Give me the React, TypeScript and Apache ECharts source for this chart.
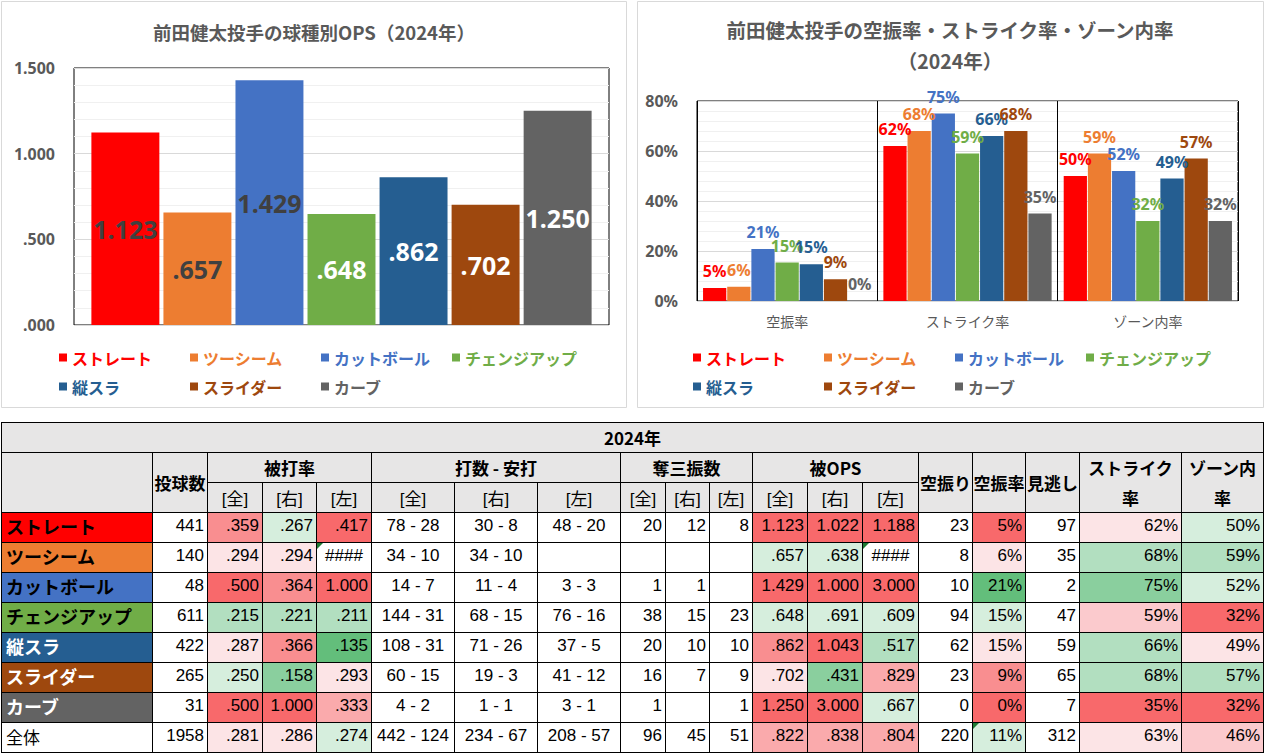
import React, { useEffect, useRef } from 'react';
import * as echarts from 'echarts';

// ---------- data ----------
const pitchTypes = ['ストレート', 'ツーシーム', 'カットボール', 'チェンジアップ', '縦スラ', 'スライダー', 'カーブ'];
const pitchColors = ['#FF0000', '#ED7D31', '#4472C4', '#70AD47', '#255E91', '#9E480E', '#636363'];
const opsLabelColors = ['#404040', '#404040', '#404040', '#FFFFFF', '#FFFFFF', '#FFFFFF', '#FFFFFF'];
const opsValues = [1.123, 0.657, 1.429, 0.648, 0.862, 0.702, 1.25];

const rateCategories = ['空振率', 'ストライク率', 'ゾーン内率'];
const whiffRates = [5.2, 5.7, 20.8, 15.4, 14.7, 8.7, 0];
const strikeRates = [62, 68, 75, 59, 66, 68, 35];
const zoneRates = [50, 59, 52, 32, 49, 57, 32];

const chart1Title = '前田健太投手の球種別OPS（2024年）';
const chart2Title = '前田健太投手の空振率・ストライク率・ゾーン内率\n（2024年）';

// table
const tableYear = '2024年';
const rowNames = [...pitchTypes, '全体'];
const rowNameTextColors = ['#000', '#000', '#000', '#000', '#FFF', '#FFF', '#FFF', '#000'];
const groupHeaders = ['被打率', '打数 - 安打', '奪三振数', '被OPS'];
const subHeaders = ['[全]', '[右]', '[左]'];
const singleHeaders = ['空振り', '空振率', '見逃し'];
const wrapHeaders = [['ストライク', '率'], ['ゾーン内', '率']];
const pitchCounts = ['441', '140', '48', '611', '422', '265', '31', '1958'];
const avgAll = ['.359', '.294', '.500', '.215', '.287', '.250', '.500', '.281'];
const avgR = ['.267', '.294', '.364', '.221', '.366', '.158', '1.000', '.286'];
const avgL = ['.417', '####', '1.000', '.211', '.135', '.293', '.333', '.274'];
const abHitsAll = ['78 - 28', '34 - 10', '14 - 7', '144 - 31', '108 - 31', '60 - 15', '4 - 2', '442 - 124'];
const abHitsR = ['30 - 8', '34 - 10', '11 - 4', '68 - 15', '71 - 26', '19 - 3', '1 - 1', '234 - 67'];
const abHitsL = ['48 - 20', '', '3 - 3', '76 - 16', '37 - 5', '41 - 12', '3 - 1', '208 - 57'];
const soAll = ['20', '', '1', '38', '20', '16', '1', '96'];
const soR = ['12', '', '1', '15', '10', '7', '', '45'];
const soL = ['8', '', '', '23', '10', '9', '1', '51'];
const opsAll = ['1.123', '.657', '1.429', '.648', '.862', '.702', '1.250', '.822'];
const opsR = ['1.022', '.638', '1.000', '.691', '1.043', '.431', '3.000', '.838'];
const opsL = ['1.188', '####', '3.000', '.609', '.517', '.829', '.667', '.804'];
const whiffs = ['23', '8', '10', '94', '62', '23', '0', '220'];
const whiffPct = ['5%', '6%', '21%', '15%', '15%', '9%', '0%', '11%'];
const takes = ['97', '35', '2', '47', '59', '65', '7', '312'];
const strikePct = ['62%', '68%', '75%', '59%', '66%', '68%', '35%', '63%'];
const zonePct = ['50%', '59%', '52%', '32%', '49%', '57%', '32%', '46%'];

// colour-scale shades
const avgAllShade = ['R2', 'R0', 'R3', 'G1', 'R0', 'G0', 'R3', 'R0'];
const avgRShade = ['G0', 'R0', 'R2', 'G1', 'R2', 'G2', 'R3', 'R0'];
const avgLShade = ['R3', '', 'R3', 'G1', 'G3', 'R0', 'R1', 'G0'];
const opsAllShade = ['R3', 'G0', 'R3', 'G0', 'R2', 'R0', 'R3', 'R1'];
const opsRShade = ['R3', 'G0', 'R3', 'G0', 'R3', 'G2', 'R3', 'R1'];
const opsLShade = ['R3', '', 'R3', 'G0', 'G1', 'R1', 'G0', 'R1'];
const whiffPctShade = ['R3', 'R0', 'G3', 'G0', 'R0', 'R2', 'R3', 'G0'];
const strikePctShade = ['R0', 'G1', 'G2', 'Rp', 'G1', 'G1', 'R3', 'R0'];
const zonePctShade = ['G0', 'G1', 'G0', 'R3', 'R0', 'G1', 'R3', 'Rp'];
const errorMarks: Record<string, boolean> = { '1-4': true, '1-13': true, '7-15': true };

const shades: Record<string, string> = {
  R3: '#F8696B', R2: '#F98E90', R1: '#FAAAAC', Rp: '#FBCACD', R0: '#FCE4E6',
  G0: '#D6EEDD', G1: '#B2DFC0', G2: '#8ACF9E', G3: '#63BE7B', '': '#FFFFFF',
};

const latin = "'Noto Sans', 'Noto Sans CJK JP', sans-serif";
const cjk = "'Noto Sans CJK JP', sans-serif";
const tableFont = "'Liberation Sans', 'Noto Sans CJK JP', sans-serif";

const fmt3 = (v: number) => (v >= 1 ? v.toFixed(3) : v.toFixed(3).slice(1));

const legendFor = (left: number) => ({
  left,
  top: 348,
  width: 540,
  padding: 0,
  orient: 'horizontal',
  icon: 'rect',
  itemWidth: 8,
  itemHeight: 8,
  itemGap: 10,
  selectedMode: false,
  textStyle: { fontSize: 16, fontWeight: 'bold', fontFamily: cjk, width: 108, lineHeight: 19 },
  data: pitchTypes.map((n, i) => ({ name: n, textStyle: { color: pitchColors[i] } })),
});

function Charts() {
  const ref = useRef<HTMLDivElement>(null);
  useEffect(() => {
    if (!ref.current) return;
    const chart = echarts.init(ref.current, null, { renderer: 'svg' });
    const option: any = {
      animation: false,
      backgroundColor: '#FFFFFF',
      graphic: [
        { type: 'rect', z: -10, silent: true, shape: { x: 1.5, y: 1.5, width: 625, height: 406 }, style: { fill: '#FFFFFF', stroke: '#D9D9D9', lineWidth: 1 } },
        { type: 'rect', z: -10, silent: true, shape: { x: 637.5, y: 1.5, width: 626, height: 406 }, style: { fill: '#FFFFFF', stroke: '#D9D9D9', lineWidth: 1 } },
      ],
      title: [
        { text: chart1Title, left: 309, top: 11, textAlign: 'center', textStyle: { fontSize: 18.5, fontWeight: 'bold', color: '#595959', fontFamily: cjk, lineHeight: 31 } },
        { text: chart2Title, left: 945, top: 9, textAlign: 'center', textStyle: { fontSize: 19.5, fontWeight: 'bold', color: '#595959', fontFamily: cjk, lineHeight: 31 } },
      ],
      legend: [legendFor(59), legendFor(693)],
      grid: [
        { left: 74, top: 68, width: 535, height: 257, show: true, borderColor: '#000', borderWidth: 1, backgroundColor: 'transparent' },
        { left: 697, top: 101, width: 541, height: 200, show: true, borderColor: '#000', borderWidth: 1, backgroundColor: 'transparent' },
      ],
      xAxis: [
        { type: 'category', gridIndex: 0, data: ['OPS'], axisLabel: { show: false }, axisTick: { show: false }, axisLine: { show: false }, splitLine: { show: false } },
        {
          type: 'category', gridIndex: 1, data: rateCategories,
          axisLabel: { fontSize: 14, color: '#595959', fontFamily: cjk, margin: 13 },
          axisTick: { show: false }, axisLine: { show: false },
          splitLine: { show: true, lineStyle: { color: '#000', width: 1 } },
        },
      ],
      yAxis: [
        {
          type: 'value', gridIndex: 0, min: 0, max: 1.5, interval: 0.5,
          axisLabel: { formatter: (v: number) => fmt3(v), fontSize: 16, fontWeight: 'bold', color: '#595959', fontFamily: latin, margin: 19 },
          axisLine: { show: false }, axisTick: { show: false },
          splitLine: { lineStyle: { color: '#D9D9D9' } },
          minorTick: { show: false, splitNumber: 5 },
          minorSplitLine: { show: true, lineStyle: { color: '#F0F0F0' } },
        },
        {
          type: 'value', gridIndex: 1, min: 0, max: 80, interval: 20,
          axisLabel: { formatter: (v: number) => v + '%', fontSize: 16, fontWeight: 'bold', color: '#595959', fontFamily: latin, margin: 19 },
          axisLine: { show: false }, axisTick: { show: false },
          splitLine: { lineStyle: { color: '#D9D9D9' } },
          minorTick: { show: false, splitNumber: 5 },
          minorSplitLine: { show: true, lineStyle: { color: '#F0F0F0' } },
        },
      ],
      series: [
        ...pitchTypes.map((name, i) => ({
          name, type: 'bar', xAxisIndex: 0, yAxisIndex: 0,
          data: [opsValues[i]],
          barGap: '6%', barCategoryGap: '6.5%',
          itemStyle: { color: pitchColors[i] },
          label: {
            show: true, position: 'inside', formatter: (p: any) => fmt3(p.value),
            fontSize: 25, fontWeight: 'bold', color: opsLabelColors[i], fontFamily: latin,
          },
        })),
        ...pitchTypes.map((name, i) => ({
          name, type: 'bar', xAxisIndex: 1, yAxisIndex: 1,
          data: [whiffRates[i], strikeRates[i], zoneRates[i]],
          barGap: '4%', barCategoryGap: '6.7%',
          itemStyle: { color: pitchColors[i] },
          label: {
            show: true, position: 'top', distance: 9, formatter: (p: any) => Math.round(p.value) + '%',
            fontSize: 16, fontWeight: 'bold', color: pitchColors[i], fontFamily: latin, lineHeight: 16,
          },
        })),
      ],
    };
    chart.setOption(option);
    return () => chart.dispose();
  }, []);
  return <div ref={ref} style={{ position: 'absolute', left: 0, top: 0, width: 1267, height: 412 }} />;
}

// ---------- table (HTML grid) ----------
const headBg = '#E7E6E6';

type Col = { vals: string[]; shade?: string[]; align: 'right' | 'center' };
const dataCols: Col[] = [
  { vals: pitchCounts, align: 'right' },
  { vals: avgAll, shade: avgAllShade, align: 'right' },
  { vals: avgR, shade: avgRShade, align: 'right' },
  { vals: avgL, shade: avgLShade, align: 'right' },
  { vals: abHitsAll, align: 'center' },
  { vals: abHitsR, align: 'center' },
  { vals: abHitsL, align: 'center' },
  { vals: soAll, align: 'right' },
  { vals: soR, align: 'right' },
  { vals: soL, align: 'right' },
  { vals: opsAll, shade: opsAllShade, align: 'right' },
  { vals: opsR, shade: opsRShade, align: 'right' },
  { vals: opsL, shade: opsLShade, align: 'right' },
  { vals: whiffs, align: 'right' },
  { vals: whiffPct, shade: whiffPctShade, align: 'right' },
  { vals: takes, align: 'right' },
  { vals: strikePct, shade: strikePctShade, align: 'right' },
  { vals: zonePct, shade: zonePctShade, align: 'right' },
];
const colWidths = [151, 55, 55, 54, 55, 83, 83, 83, 45, 44, 43, 55, 55, 56, 54, 53, 54, 102, 82];
const rowHeights = [30, 30, 30, 30, 30, 30, 30, 30, 30, 30, 30];
const tableLeft = 1;
const tableTop = 422;
const xs = colWidths.reduce((a, w) => [...a, a[a.length - 1] + w], [tableLeft]);
const ys = rowHeights.reduce((a, h) => [...a, a[a.length - 1] + h], [tableTop]);

type CellProps = {
  c0: number; c1: number; r0: number; r1: number; bg?: string;
  align?: 'left' | 'right' | 'center'; style?: React.CSSProperties; children?: React.ReactNode; mark?: boolean;
};
function Cell({ c0, c1, r0, r1, bg = '#FFFFFF', align = 'center', style, children, mark }: CellProps) {
  const left = xs[c0];
  const top = ys[r0];
  return (
    <div
      style={{
        position: 'absolute', left, top, width: xs[c1] - left + 1, height: ys[r1] - top + 1,
        border: '1px solid #000', boxSizing: 'border-box', background: bg,
        display: 'flex', alignItems: 'center',
        justifyContent: align === 'right' ? 'flex-end' : align === 'left' ? 'flex-start' : 'center',
        paddingRight: align === 'right' ? 3 : 0, paddingLeft: align === 'left' ? 4 : 0,
        whiteSpace: 'nowrap', overflow: 'hidden', color: '#000', fontSize: 17, fontFamily: tableFont,
        ...style,
      }}
    >
      {mark && (
        <span
          style={{
            position: 'absolute', left: 0, top: 0, width: 0, height: 0,
            borderTop: '6px solid #1E7B34', borderRight: '6px solid transparent',
          }}
        />
      )}
      {children}
    </div>
  );
}

function Table() {
  const bold: React.CSSProperties = { fontWeight: 'bold', fontFamily: cjk };
  const rowText: React.CSSProperties = { paddingBottom: 3 };
  const cells: React.ReactNode[] = [];
  cells.push(<Cell key="year" c0={0} c1={19} r0={0} r1={1} bg={headBg} style={bold}>{tableYear}</Cell>);
  cells.push(<Cell key="corner" c0={0} c1={1} r0={1} r1={3} bg={headBg} />);
  cells.push(<Cell key="count" c0={1} c1={2} r0={1} r1={3} bg={headBg} style={bold}>投球数</Cell>);
  groupHeaders.forEach((g, gi) => {
    const c0 = 2 + gi * 3;
    cells.push(<Cell key={'g' + gi} c0={c0} c1={c0 + 3} r0={1} r1={2} bg={headBg} style={bold}>{g}</Cell>);
    subHeaders.forEach((s, si) => {
      cells.push(<Cell key={'s' + gi + si} c0={c0 + si} c1={c0 + si + 1} r0={2} r1={3} bg={headBg}>{s}</Cell>);
    });
  });
  singleHeaders.forEach((h, hi) => {
    cells.push(<Cell key={'h' + hi} c0={14 + hi} c1={15 + hi} r0={1} r1={3} bg={headBg} style={bold}>{h}</Cell>);
  });
  wrapHeaders.forEach((lines, wi) => {
    cells.push(
      <Cell key={'w' + wi} c0={17 + wi} c1={18 + wi} r0={1} r1={3} bg={headBg} style={{ ...bold, flexDirection: 'column', lineHeight: '30px' }}>
        {lines.map((l, li) => (
          <span key={li}>{l}</span>
        ))}
      </Cell>
    );
  });
  rowNames.forEach((name, r) => {
    const isTotal = r === rowNames.length - 1;
    const rr = r + 3;
    cells.push(
      <Cell
        key={'n' + r} c0={0} c1={1} r0={rr} r1={rr + 1} align="left"
        bg={isTotal ? '#FFFFFF' : pitchColors[r]}
        style={{ ...rowText, color: rowNameTextColors[r], fontWeight: isTotal ? 'normal' : 'bold', fontSize: isTotal ? 17 : 18, fontFamily: cjk }}
      >
        {name}
      </Cell>
    );
    dataCols.forEach((c, ci) => {
      const v = c.vals[r];
      const isErr = v === '####';
      cells.push(
        <Cell
          key={'d' + r + '-' + ci} c0={ci + 1} c1={ci + 2} r0={rr} r1={rr + 1}
          bg={c.shade ? shades[c.shade[r]] : '#FFFFFF'}
          align={isErr ? 'center' : c.align}
          mark={errorMarks[r + '-' + (ci + 1)]}
          style={rowText}
        >
          {v}
        </Cell>
      );
    });
  });
  return <>{cells}</>;
}

export default function App() {
  return (
    <div style={{ position: 'absolute', left: 0, top: 0, width: 1267, height: 755, background: '#FFFFFF', overflow: 'hidden' }}>
      <Charts />
      <Table />
    </div>
  );
}
